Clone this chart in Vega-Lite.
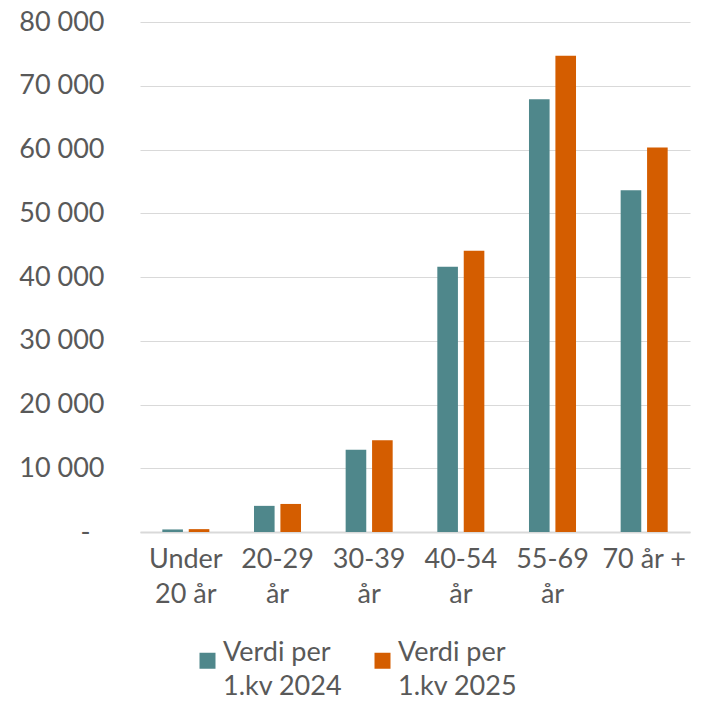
{
  "$schema": "https://vega.github.io/schema/vega-lite/v6.json",
  "width": 550,
  "height": 510,
  "autosize": {"type": "none"},
  "padding": {"left": 140, "top": 22, "right": 14, "bottom": 176},
  "background": "white",
  "config": {
    "font": "Lato",
    "view": {"stroke": null},
    "style": {"guide-label": {"lineHeight": 34}},
    "axis": {"labelFont": "Lato", "labelColor": "#595959", "labelFontSize": 27, "title": null}
  },
  "data": {
    "values": [
      {"alder": "Under 20 år", "periode": "Verdi per 1.kv 2024", "verdi": 400},
      {"alder": "Under 20 år", "periode": "Verdi per 1.kv 2025", "verdi": 450},
      {"alder": "20-29 år", "periode": "Verdi per 1.kv 2024", "verdi": 4100},
      {"alder": "20-29 år", "periode": "Verdi per 1.kv 2025", "verdi": 4400},
      {"alder": "30-39 år", "periode": "Verdi per 1.kv 2024", "verdi": 12900},
      {"alder": "30-39 år", "periode": "Verdi per 1.kv 2025", "verdi": 14400},
      {"alder": "40-54 år", "periode": "Verdi per 1.kv 2024", "verdi": 41600},
      {"alder": "40-54 år", "periode": "Verdi per 1.kv 2025", "verdi": 44100},
      {"alder": "55-69 år", "periode": "Verdi per 1.kv 2024", "verdi": 67900},
      {"alder": "55-69 år", "periode": "Verdi per 1.kv 2025", "verdi": 74700},
      {"alder": "70 år +", "periode": "Verdi per 1.kv 2024", "verdi": 53600},
      {"alder": "70 år +", "periode": "Verdi per 1.kv 2025", "verdi": 60300}
    ]
  },
  "mark": {"type": "bar"},
  "encoding": {
    "x": {
      "field": "alder",
      "type": "nominal",
      "sort": null,
      "scale": {"paddingInner": 0.487, "paddingOuter": 0.2435},
      "axis": {
        "labelAngle": 0,
        "ticks": false,
        "domainColor": "#d9d9d9",
        "domainWidth": 2,
        "labelPadding": 14,
        "labelLineHeight": 35,
        "labelExpr": "datum.value == 'Under 20 år' ? ['Under', '20 år'] : datum.value == '70 år +' ? '70 år +' : [replace(datum.value, ' år', ''), 'år']"
      }
    },
    "xOffset": {
      "field": "periode",
      "type": "nominal",
      "scale": {"paddingInner": 0.22, "paddingOuter": 0}
    },
    "y": {
      "field": "verdi",
      "type": "quantitative",
      "scale": {"domain": [0, 80000], "nice": false},
      "axis": {
        "values": [0, 10000, 20000, 30000, 40000, 50000, 60000, 70000, 80000],
        "ticks": false,
        "domain": false,
        "gridColor": "#d9d9d9",
        "gridWidth": 1,
        "labelPadding": {"condition": {"test": "datum.value == 0", "value": 50}, "value": 36},
        "labelExpr": "datum.value == 0 ? '-' : replace(format(datum.value, ',d'), ',', ' ')"
      }
    },
    "color": {
      "field": "periode",
      "type": "nominal",
      "scale": {"range": ["#4f878b", "#d45d00"]},
      "legend": {
        "orient": "none",
        "legendX": 54,
        "legendY": 625,
        "direction": "horizontal",
        "title": null,
        "symbolType": "square",
        "symbolSize": 256,
        "symbolStrokeWidth": 0,
        "symbolOpacity": 1,
        "labelFont": "Lato",
        "labelFontSize": 27,
        "labelColor": "#595959",
        "labelBaseline": "alphabetic",
        "labelOffset": 2,
        "labelLimit": 300,
        "columnPadding": 26,
        "labelExpr": "['Verdi per', replace(datum.label, 'Verdi per ', '')]"
      }
    }
  }
}
